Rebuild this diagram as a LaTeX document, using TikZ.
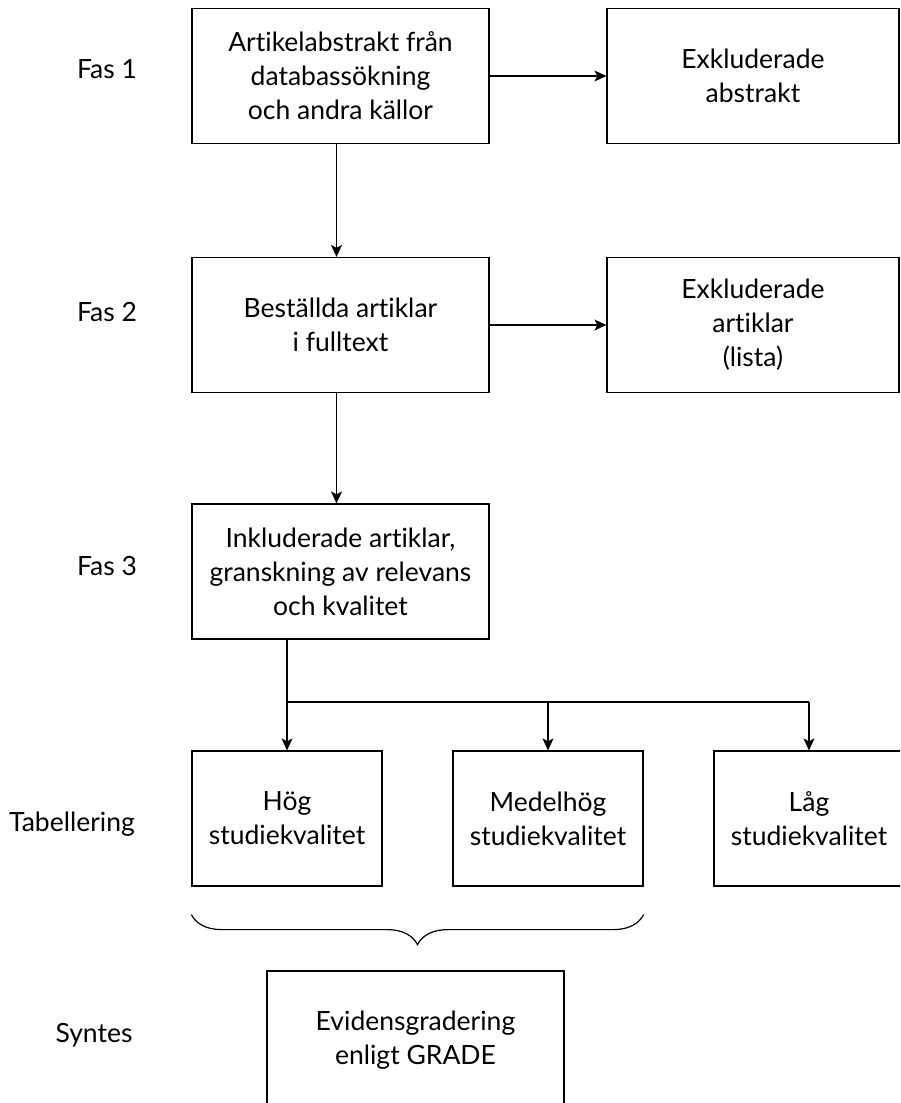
\documentclass[tikz,border=0pt]{standalone}
\usepackage{fontspec}
\setmainfont[Ligatures=NoCommon]{Lato}
\usetikzlibrary{arrows.meta,decorations.pathreplacing}
\tikzset{
  box/.style={draw, line width=1.2pt, align=center, inner sep=0pt,
    font=\fontsize{26.5}{34}\selectfont},
  mainbox/.style={box, minimum width=297pt, minimum height=135pt},
  exbox/.style={box, minimum width=292pt, minimum height=135pt},
  gradebox/.style={box, minimum width=190pt, minimum height=135pt},
  faslabel/.style={font=\fontsize{26.5}{34}\selectfont},
  arr/.style={line width=1.2pt, -{Stealth[length=12pt,width=11pt,inset=3pt]}},
  conn/.style={line width=1.2pt}
}
\begin{document}
\begin{tikzpicture}[x=1pt,y=-1pt]
\useasboundingbox (0,0) rectangle (900,1103);
\clip (0,0) rectangle (900,1103);
% faser
\node[mainbox] (abstr) at (340.5,76) {Artikelabstrakt från\\databassökning\\och andra källor};
\node[exbox] (exabstr) at (753,76) {Exkluderade\\abstrakt};
\node[mainbox] (best) at (340.5,325) {Beställda artiklar\\i fulltext};
\node[exbox] (exart) at (753,325) {Exkluderade\\artiklar\\(lista)};
\node[mainbox] (inkl) at (340.5,571.5) {Inkluderade artiklar,\\granskning av relevans\\och kvalitet};
% tabellering
\node[gradebox] (hog) at (287,818.5) {Hög\\studiekvalitet};
\node[gradebox] (medel) at (548,818.5) {Medelhög\\studiekvalitet};
\node[gradebox] (lag) at (809,818.5) {Låg\\studiekvalitet};
% syntes
\node[mainbox, minimum height=138pt] (grade) at (415.5,1040) {Evidensgradering\\enligt GRADE};
% etiketter
\node[faslabel] (fas1) at (107,69) {Fas 1};
\node[faslabel] (fas2) at (107,312) {Fas 2};
\node[faslabel] (fas3) at (107,566) {Fas 3};
\node[faslabel] (tab) at (72,824) {Tabellering};
\node[faslabel] (syn) at (94,1035) {Syntes};
% pilar
\draw[arr] (abstr.east) -- (exabstr.west);
\draw[arr] (best.east) -- (exart.west);
\draw[arr] ([xshift=-4pt]abstr.south) -- ([xshift=-4pt]best.north);
\draw[arr] ([xshift=-4pt]best.south) -- ([xshift=-4pt]inkl.north);
\coordinate (split) at (287,702);
\draw[conn] (inkl.south -| split) -- (split) -- (split -| lag);
\draw[arr] (split) -- (hog.north);
\draw[arr] (split -| medel) -- (medel.north);
\draw[arr] (split -| lag) -- (lag.north);
% klammer
\draw[conn, decorate, decoration={brace, mirror, amplitude=30pt}]
  ([yshift=-28pt]hog.south west) -- ([yshift=-28pt]medel.south east);
\end{tikzpicture}
\end{document}
